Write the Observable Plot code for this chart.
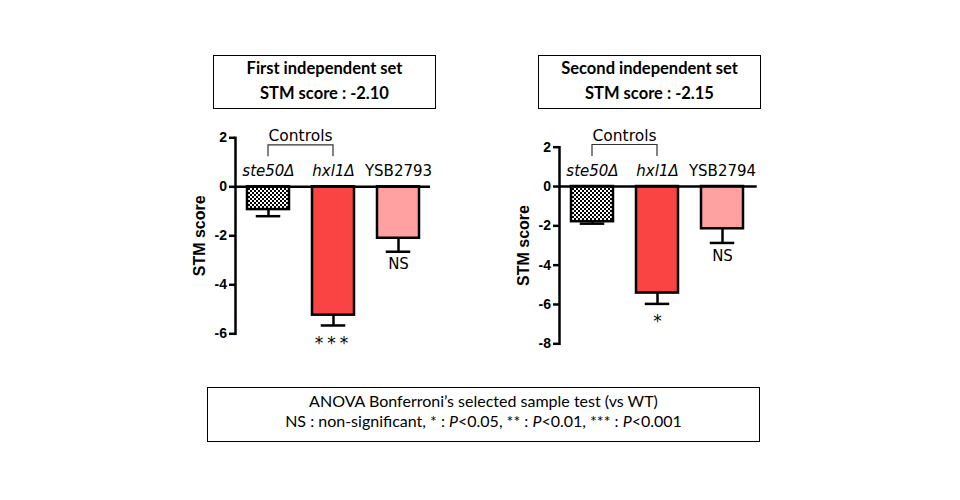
<!DOCTYPE html>
<html><head><meta charset="utf-8">
<script src="https://cdn.jsdelivr.net/npm/d3@7"></script>
<script src="https://cdn.jsdelivr.net/npm/@observablehq/plot@0.6"></script>
<style>
body{margin:0;background:#fff;}
#wrap{position:relative;width:960px;height:500px;overflow:hidden;background:#fff;}
#wrap svg.plotsvg{position:absolute;top:0;}
.box{position:absolute;border:1px solid #000;box-sizing:border-box;text-align:center;font-family:Lato,"Open Sans",sans-serif;color:#000;background:#fff;white-space:nowrap;}
.title{font-weight:bold;font-size:16.5px;line-height:25px;padding-top:0px;}
.note{font-size:16px;line-height:20px;padding-top:3px;}
</style></head><body>
<svg width="0" height="0" style="position:absolute">
  <defs>
    <pattern id="checker" patternUnits="userSpaceOnUse" width="4" height="4">
      <rect width="4" height="4" fill="#fff"/>
      <rect x="0" y="0" width="2" height="2" fill="#000"/>
      <rect x="2" y="2" width="2" height="2" fill="#000"/>
    </pattern>
  </defs>
</svg>
<div id="wrap"></div>
<script>
// ---- data ----
const categories1 = ["ste50Δ", "hxl1Δ", "YSB2793"];
const values1 = [-0.93, -5.24, -2.10];
const errors1 = [0.27, 0.42, 0.55];
const signif1 = ["", "***", "NS"];

const categories2 = ["ste50Δ", "hxl1Δ", "YSB2794"];
const values2 = [-1.79, -5.42, -2.15];
const errors2 = [0.10, 0.55, 0.72];
const signif2 = ["", "*", "NS"];

const yTicks1 = [2, 0, -2, -4, -6];
const yTicks2 = [2, 0, -2, -4, -6, -8];
const yDomain1 = [-6, 2];
const yDomain2 = [-8, 2];

const barFills = ["url(#checker)", "#fa4343", "#ffa1a1"];
const titles1 = ["First independent set", "STM score : -2.10"];
const titles2 = ["Second independent set", "STM score : -2.15"];
const controlsLabel = "Controls";
const yLabel = "STM score";
const noteLine1 = "ANOVA Bonferroni’s selected sample test (vs WT)";
const noteLine2 = "NS : non-significant, * : <i>P</i>&lt;0.05, ** : <i>P</i>&lt;0.01, *** : <i>P</i>&lt;0.001";

const wrap = document.getElementById("wrap");

function panel(cfg) {
  const data = cfg.cats.map((c, i) => ({
    cat: c, v: cfg.vals[i], lo: cfg.vals[i] - cfg.errs[i], sig: cfg.sig[i],
    fill: barFills[i], italic: c.includes("Δ")
  }));
  const chart = Plot.plot({
    width: 480, height: 500,
    marginLeft: cfg.mL, marginRight: cfg.mR, marginTop: cfg.mT, marginBottom: cfg.mB,
    style: {background: "transparent", fontFamily: "DejaVu Sans", color: "#000"},
    x: {type: "band", domain: cfg.cats, range: cfg.xRange, paddingInner: 0.352, paddingOuter: 0.178, axis: null},
    y: {domain: cfg.domain, axis: null},
    color: {type: "identity"},
    marks: [
      Plot.barY(data, {x: "cat", y1: 0, y2: "v", fill: "fill", stroke: "#000", strokeWidth: 2.5}),
      Plot.ruleX(data, {x: "cat", y1: "v", y2: "lo", stroke: "#000", strokeWidth: 2.5}),
      Plot.tickY(data, {x: "cat", y: "lo", insetLeft: 8.75, insetRight: 8.75, stroke: "#000", strokeWidth: 2.5}),
      Plot.ruleY([0], {stroke: "#000", strokeWidth: 2.5}),
      Plot.frame({anchor: "left", stroke: "#000", strokeWidth: 2.5}),
      Plot.axisY({ticks: cfg.ticks, tickSize: 6, strokeWidth: 2.5, tickFormat: () => "", label: null}),
      Plot.text(cfg.ticks, {y: d => d, text: d => String(d), frameAnchor: "left", textAnchor: "end", dx: -8.5,
        fontSize: 14, fontWeight: "bold", fontFamily: "Liberation Sans"}),
      Plot.text([yLabel], {frameAnchor: "left", textAnchor: "middle", rotate: -90, dx: -36, fontSize: 16, fontWeight: "bold", fontFamily: "Liberation Sans"}),
      Plot.text(data.filter(d => d.italic), {x: "cat", y: 0, text: "cat", dy: -11, lineAnchor: "bottom", fontStyle: "italic", fontSize: 15}),
      Plot.text(data.filter(d => !d.italic), {x: "cat", y: 0, text: "cat", dy: -11, lineAnchor: "bottom", fontSize: 15}),
      Plot.text(data.filter(d => d.sig === "NS"), {x: "cat", y: "lo", text: "sig", lineAnchor: "top", dy: 7, fontSize: 15}),
      Plot.text(data.filter(d => d.sig.startsWith("*")), {x: "cat", y: "lo", text: "sig", lineAnchor: "top", dy: 11, fontSize: 17})
    ]
  });
  chart.classList.add("plotsvg");
  chart.style.left = cfg.left + "px";
  const sel = d3.select(chart);
  // letter spacing for the star labels
  sel.selectAll("text").filter(function() { return this.textContent === "***"; })
    .attr("letter-spacing", "4px");
  // "Controls" bracket positioned with the chart's own scales
  const xs = chart.scale("x"), ys = chart.scale("y");
  const cx = c => xs.apply(c) + xs.bandwidth / 2;
  const x1 = cx(cfg.cats[0]), x2 = cx(cfg.cats[1]), y0 = ys.apply(0);
  const g = sel.append("g");
  g.append("path").attr("d", `M${x1},${y0 - 30}V${y0 - 41.5}H${x2}V${y0 - 30}`)
    .attr("fill", "none").attr("stroke", "#333").attr("stroke-width", 1.2);
  g.append("text").attr("x", (x1 + x2) / 2).attr("y", y0 - 45.5).attr("text-anchor", "middle")
    .attr("font-size", 15.5).attr("font-family", "DejaVu Sans").attr("fill", "#000").text(controlsLabel);
  wrap.appendChild(chart);
}

panel({cats: categories1, vals: values1, errs: errors1, sig: signif1, ticks: yTicks1, domain: yDomain1,
  mL: 235, mR: 50, mT: 137.3, mB: 166.7, xRange: [235, 432], left: 0});
panel({cats: categories2, vals: values2, errs: errors2, sig: signif2, ticks: yTicks2, domain: yDomain2,
  mL: 79, mR: 203.3, mT: 146.7, mB: 156.7, xRange: [79, 275.3], left: 480});

function box(cls, left, top, w, h, lines) {
  const d = document.createElement("div");
  d.className = "box " + cls;
  Object.assign(d.style, {left: left + "px", top: top + "px", width: w + "px", height: h + "px"});
  d.innerHTML = lines.join("<br>");
  wrap.appendChild(d);
}
box("title", 213, 55, 223, 54, titles1);
box("title", 538, 55, 223, 54, titles2);
box("note", 207, 387, 553, 55, [noteLine1, noteLine2]);
</script>
</body></html>
